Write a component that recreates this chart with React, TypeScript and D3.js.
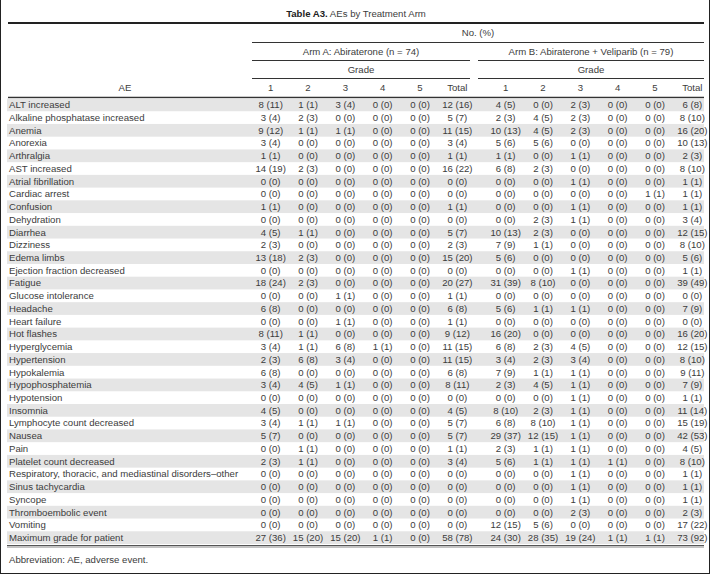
import React from "react";
import * as d3 from "d3";

const aeNames = [
  "ALT increased",
  "Alkaline phosphatase increased",
  "Anemia",
  "Anorexia",
  "Arthralgia",
  "AST increased",
  "Atrial fibrillation",
  "Cardiac arrest",
  "Confusion",
  "Dehydration",
  "Diarrhea",
  "Dizziness",
  "Edema limbs",
  "Ejection fraction decreased",
  "Fatigue",
  "Glucose intolerance",
  "Headache",
  "Heart failure",
  "Hot flashes",
  "Hyperglycemia",
  "Hypertension",
  "Hypokalemia",
  "Hypophosphatemia",
  "Hypotension",
  "Insomnia",
  "Lymphocyte count decreased",
  "Nausea",
  "Pain",
  "Platelet count decreased",
  "Respiratory, thoracic, and mediastinal disorders\u2013other",
  "Sinus tachycardia",
  "Syncope",
  "Thromboembolic event",
  "Vomiting",
  "Maximum grade for patient",
];

const gradeLabels = ["1", "2", "3", "4", "5", "Total"];

const armALabel = "Arm A: Abiraterone (n = 74)";
const armBLabel = "Arm B: Abiraterone + Veliparib (n = 79)";

// Arm A counts [G1, G2, G3, G4, G5, Total]
const armACounts = [
  [8, 1, 3, 0, 0, 12],
  [3, 2, 0, 0, 0, 5],
  [9, 1, 1, 0, 0, 11],
  [3, 0, 0, 0, 0, 3],
  [1, 0, 0, 0, 0, 1],
  [14, 2, 0, 0, 0, 16],
  [0, 0, 0, 0, 0, 0],
  [0, 0, 0, 0, 0, 0],
  [1, 0, 0, 0, 0, 1],
  [0, 0, 0, 0, 0, 0],
  [4, 1, 0, 0, 0, 5],
  [2, 0, 0, 0, 0, 2],
  [13, 2, 0, 0, 0, 15],
  [0, 0, 0, 0, 0, 0],
  [18, 2, 0, 0, 0, 20],
  [0, 0, 1, 0, 0, 1],
  [6, 0, 0, 0, 0, 6],
  [0, 0, 1, 0, 0, 1],
  [8, 1, 0, 0, 0, 9],
  [3, 1, 6, 1, 0, 11],
  [2, 6, 3, 0, 0, 11],
  [6, 0, 0, 0, 0, 6],
  [3, 4, 1, 0, 0, 8],
  [0, 0, 0, 0, 0, 0],
  [4, 0, 0, 0, 0, 4],
  [3, 1, 1, 0, 0, 5],
  [5, 0, 0, 0, 0, 5],
  [0, 1, 0, 0, 0, 1],
  [2, 1, 0, 0, 0, 3],
  [0, 0, 0, 0, 0, 0],
  [0, 0, 0, 0, 0, 0],
  [0, 0, 0, 0, 0, 0],
  [0, 0, 0, 0, 0, 0],
  [0, 0, 0, 0, 0, 0],
  [27, 15, 15, 1, 0, 58],
];

const armAPct = [
  [11, 1, 4, 0, 0, 16],
  [4, 3, 0, 0, 0, 7],
  [12, 1, 1, 0, 0, 15],
  [4, 0, 0, 0, 0, 4],
  [1, 0, 0, 0, 0, 1],
  [19, 3, 0, 0, 0, 22],
  [0, 0, 0, 0, 0, 0],
  [0, 0, 0, 0, 0, 0],
  [1, 0, 0, 0, 0, 1],
  [0, 0, 0, 0, 0, 0],
  [5, 1, 0, 0, 0, 7],
  [3, 0, 0, 0, 0, 3],
  [18, 3, 0, 0, 0, 20],
  [0, 0, 0, 0, 0, 0],
  [24, 3, 0, 0, 0, 27],
  [0, 0, 1, 0, 0, 1],
  [8, 0, 0, 0, 0, 8],
  [0, 0, 1, 0, 0, 1],
  [11, 1, 0, 0, 0, 12],
  [4, 1, 8, 1, 0, 15],
  [3, 8, 4, 0, 0, 15],
  [8, 0, 0, 0, 0, 8],
  [4, 5, 1, 0, 0, 11],
  [0, 0, 0, 0, 0, 0],
  [5, 0, 0, 0, 0, 5],
  [4, 1, 1, 0, 0, 7],
  [7, 0, 0, 0, 0, 7],
  [0, 1, 0, 0, 0, 1],
  [3, 1, 0, 0, 0, 4],
  [0, 0, 0, 0, 0, 0],
  [0, 0, 0, 0, 0, 0],
  [0, 0, 0, 0, 0, 0],
  [0, 0, 0, 0, 0, 0],
  [0, 0, 0, 0, 0, 0],
  [36, 20, 20, 1, 0, 78],
];

// Arm B counts [G1, G2, G3, G4, G5, Total]
const armBCounts = [
  [4, 0, 2, 0, 0, 6],
  [2, 4, 2, 0, 0, 8],
  [10, 4, 2, 0, 0, 16],
  [5, 5, 0, 0, 0, 10],
  [1, 0, 1, 0, 0, 2],
  [6, 2, 0, 0, 0, 8],
  [0, 0, 1, 0, 0, 1],
  [0, 0, 0, 0, 1, 1],
  [0, 0, 1, 0, 0, 1],
  [0, 2, 1, 0, 0, 3],
  [10, 2, 0, 0, 0, 12],
  [7, 1, 0, 0, 0, 8],
  [5, 0, 0, 0, 0, 5],
  [0, 0, 1, 0, 0, 1],
  [31, 8, 0, 0, 0, 39],
  [0, 0, 0, 0, 0, 0],
  [5, 1, 1, 0, 0, 7],
  [0, 0, 0, 0, 0, 0],
  [16, 0, 0, 0, 0, 16],
  [6, 2, 4, 0, 0, 12],
  [3, 2, 3, 0, 0, 8],
  [7, 1, 1, 0, 0, 9],
  [2, 4, 1, 0, 0, 7],
  [0, 0, 1, 0, 0, 1],
  [8, 2, 1, 0, 0, 11],
  [6, 8, 1, 0, 0, 15],
  [29, 12, 1, 0, 0, 42],
  [2, 1, 1, 0, 0, 4],
  [5, 1, 1, 1, 0, 8],
  [0, 0, 1, 0, 0, 1],
  [0, 0, 1, 0, 0, 1],
  [0, 0, 1, 0, 0, 1],
  [0, 0, 2, 0, 0, 2],
  [12, 5, 0, 0, 0, 17],
  [24, 28, 19, 1, 1, 73],
];

const armBPct = [
  [5, 0, 3, 0, 0, 8],
  [3, 5, 3, 0, 0, 10],
  [13, 5, 3, 0, 0, 20],
  [6, 6, 0, 0, 0, 13],
  [1, 0, 1, 0, 0, 3],
  [8, 3, 0, 0, 0, 10],
  [0, 0, 1, 0, 0, 1],
  [0, 0, 0, 0, 1, 1],
  [0, 0, 1, 0, 0, 1],
  [0, 3, 1, 0, 0, 4],
  [13, 3, 0, 0, 0, 15],
  [9, 1, 0, 0, 0, 10],
  [6, 0, 0, 0, 0, 6],
  [0, 0, 1, 0, 0, 1],
  [39, 10, 0, 0, 0, 49],
  [0, 0, 0, 0, 0, 0],
  [6, 1, 1, 0, 0, 9],
  [0, 0, 0, 0, 0, 0],
  [20, 0, 0, 0, 0, 20],
  [8, 3, 5, 0, 0, 15],
  [4, 3, 4, 0, 0, 10],
  [9, 1, 1, 0, 0, 11],
  [3, 5, 1, 0, 0, 9],
  [0, 0, 1, 0, 0, 1],
  [10, 3, 1, 0, 0, 14],
  [8, 10, 1, 0, 0, 19],
  [37, 15, 1, 0, 0, 53],
  [3, 1, 1, 0, 0, 5],
  [6, 1, 1, 1, 0, 10],
  [0, 0, 1, 0, 0, 1],
  [0, 0, 1, 0, 0, 1],
  [0, 0, 1, 0, 0, 1],
  [0, 0, 3, 0, 0, 3],
  [15, 6, 0, 0, 0, 22],
  [30, 35, 24, 1, 1, 92],
];

const W = 712;
const H = 576;
const FONT = "'Liberation Sans', Arial, sans-serif";
const TEXT = "#3c3c3c";
const FS = 9.6;

export default function App() {
  const left = 7;
  const right = 704;
  const colStartA = 252;
  const xA = d3.scaleBand<string>().domain(gradeLabels).range([252, 476]).padding(0);
  const xB = d3.scaleBand<string>().domain(gradeLabels).range([487, 711]).padding(0);
  const rowTop = 98.5;
  const rowBottom = 544;
  const y = d3
    .scaleBand<number>()
    .domain(d3.range(aeNames.length))
    .range([rowTop, rowBottom])
    .padding(0);
  const bw = y.bandwidth();

  const cell = (n: number, p: number) => `${n} (${p})`;

  const arms = [
    { x: xA, counts: armACounts, pct: armAPct, label: armALabel, x0: colStartA, x1: 470 },
    { x: xB, counts: armBCounts, pct: armBPct, label: armBLabel, x0: 478, x1: right },
  ];

  return (
    <svg
      width={W}
      height={H}
      viewBox={`0 0 ${W} ${H}`}
      style={{ position: "absolute", left: 0, top: 0, background: "#fff" }}
      fontFamily={FONT}
    >
      <rect x={0} y={0} width={W} height={H} fill="#fff" />
      {/* frame */}
      <line x1={0.5} x2={0.5} y1={0} y2={574} stroke="#222" strokeWidth={1} />
      <line x1={709.5} x2={709.5} y1={0} y2={574} stroke="#222" strokeWidth={1} />
      <line x1={0} x2={710} y1={573.5} y2={573.5} stroke="#222" strokeWidth={1} />

      {/* title */}
      <text x={356} y={17} textAnchor="middle" fontSize={FS} fill="#222">
        <tspan fontWeight="bold">Table A3.</tspan>
        <tspan fill={TEXT}> AEs by Treatment Arm</tspan>
      </text>
      <line x1={left + 1} x2={right} y1={23} y2={23} stroke="#222" strokeWidth={2} />

      {/* No. (%) */}
      <text x={(colStartA + right) / 2} y={36} textAnchor="middle" fontSize={FS} fill={TEXT}>
        No. (%)
      </text>
      <line x1={colStartA} x2={right} y1={42.5} y2={42.5} stroke="#333" strokeWidth={1.2} />

      {arms.map((a, i) => (
        <g key={"arm" + i}>
          <text x={(a.x0 + a.x1) / 2} y={54.5} textAnchor="middle" fontSize={FS} fill={TEXT}>
            {a.label}
          </text>
          <line x1={a.x0} x2={a.x1} y1={60.5} y2={60.5} stroke="#333" strokeWidth={1.2} />
          <text x={(a.x0 + a.x1) / 2} y={72.5} textAnchor="middle" fontSize={FS} fill={TEXT}>
            Grade
          </text>
          <line x1={a.x0} x2={a.x1} y1={78.5} y2={78.5} stroke="#333" strokeWidth={1.2} />
          {gradeLabels.map((g) => (
            <text
              key={g}
              x={(a.x(g) as number) + a.x.bandwidth() / 2}
              y={91}
              textAnchor="middle"
              fontSize={FS}
              fill={TEXT}
            >
              {g}
            </text>
          ))}
        </g>
      ))}

      <text x={125} y={91} textAnchor="middle" fontSize={FS} fill={TEXT}>
        AE
      </text>
      <line x1={left + 1} x2={right} y1={97.5} y2={97.5} stroke="#333" strokeWidth={1.4} />

      {/* rows */}
      {aeNames.map((name, r) => {
        const yy = y(r) as number;
        const base = yy + bw / 2 + 3.4;
        return (
          <g key={name}>
            {r % 2 === 0 && (
              <rect x={left} y={yy} width={right - left} height={bw} fill="#e5e5e5" />
            )}
            <text x={9} y={base} fontSize={FS} fill={TEXT}>
              {name}
            </text>
            {arms.map((a, ai) =>
              gradeLabels.map((g, gi) => (
                <text
                  key={ai + "-" + g}
                  x={(a.x(g) as number) + a.x.bandwidth() / 2}
                  y={base}
                  textAnchor="middle"
                  fontSize={FS}
                  fill={TEXT}
                >
                  {cell(a.counts[r][gi], a.pct[r][gi])}
                </text>
              ))
            )}
          </g>
        );
      })}

      <line x1={left} x2={right} y1={545.5} y2={545.5} stroke="#555" strokeWidth={1} />
      <line x1={left} x2={right} y1={547} y2={547} stroke="#888" strokeWidth={1} />

      <text x={9} y={563} fontSize={FS} fill={TEXT}>
        Abbreviation: AE, adverse event.
      </text>
    </svg>
  );
}
